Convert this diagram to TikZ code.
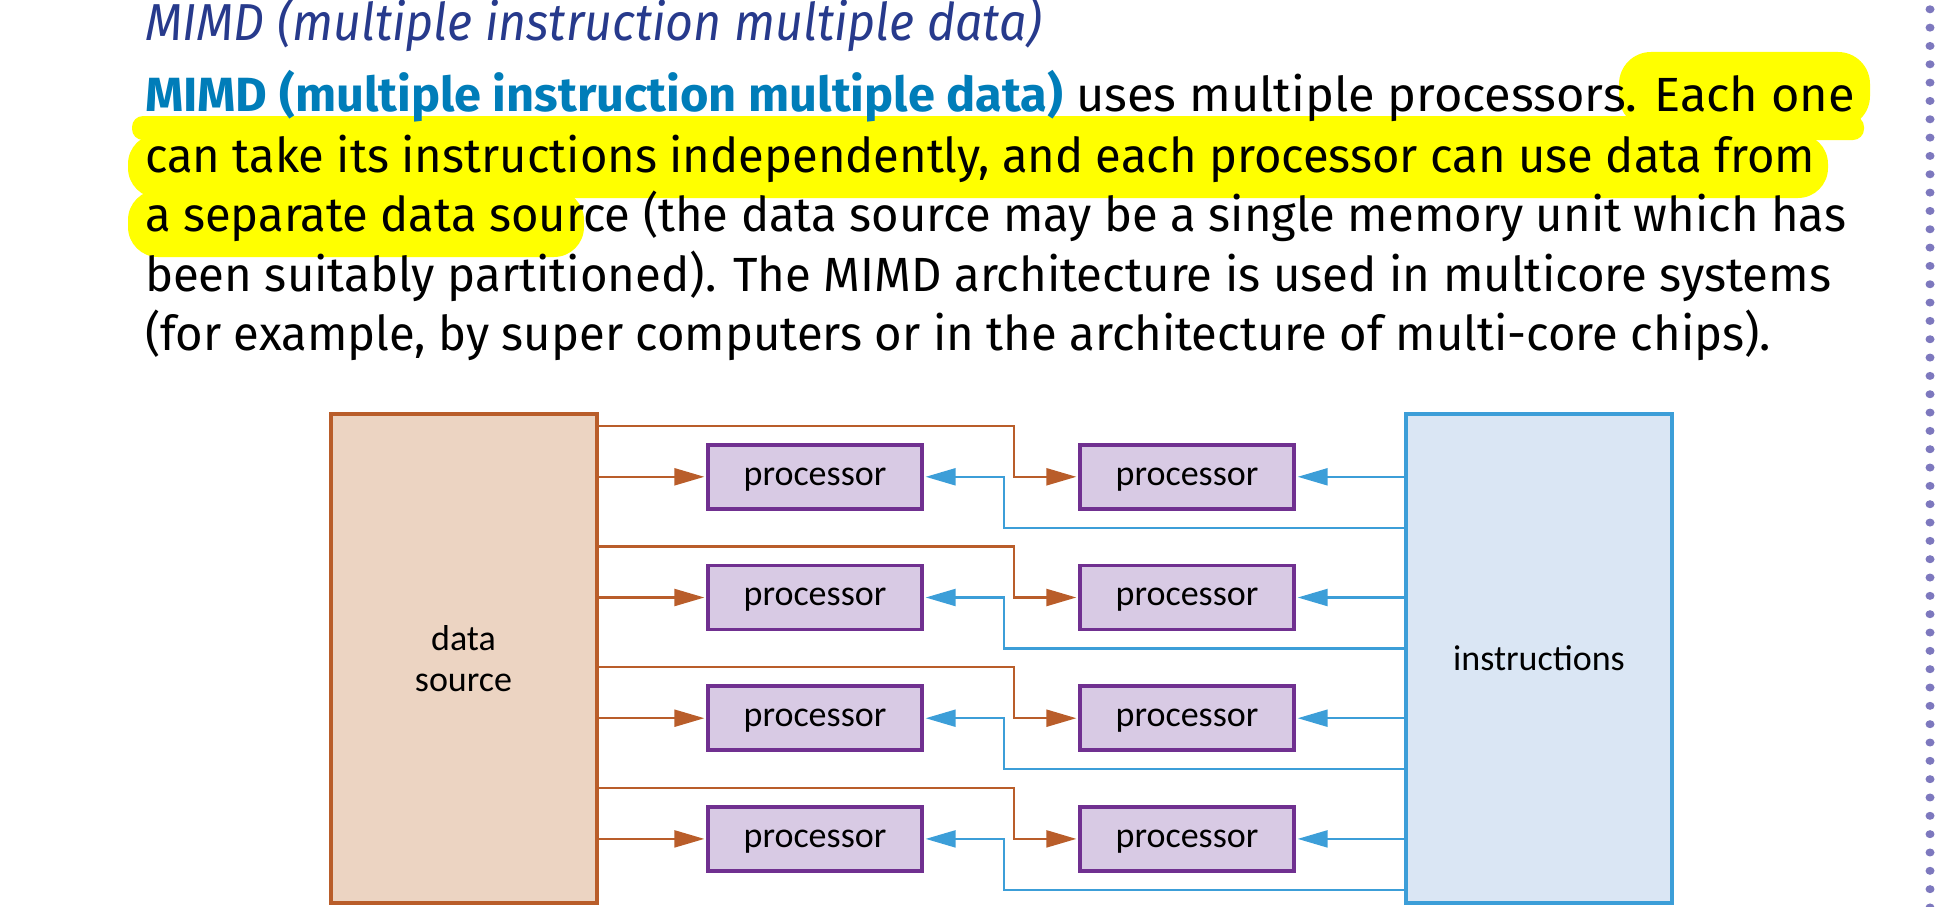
\documentclass[tikz,border=0pt]{standalone}
\usepackage{fontspec}
\usepackage{graphicx}
\setmainfont{Fira Sans}
\newfontfamily\diagfont{Carlito}
\usetikzlibrary{arrows.meta,calc}
\definecolor{titleblue}{HTML}{273A8C}
\definecolor{boldblue}{HTML}{007DB9}
\definecolor{hlyellow}{HTML}{FFFF00}
\definecolor{dsborder}{HTML}{B95D2A}
\definecolor{dsfill}{HTML}{ECD4C2}
\definecolor{procborder}{HTML}{703090}
\definecolor{procfill}{HTML}{D8CAE4}
\definecolor{insborder}{HTML}{3C9ED8}
\definecolor{insfill}{HTML}{DAE6F4}
\definecolor{dotcol}{HTML}{7D78BE}
\newcommand\bdsz{\fontsize{48}{58}\selectfont}
\begin{document}
\begin{tikzpicture}[x=1pt,y=-1pt,
  hl/.style={fill=hlyellow},
  bodyline/.style={anchor=base west, inner sep=0pt, outer sep=0pt},
  diag/.style={font=\diagfont\fontsize{36}{41}\selectfont},
  proc/.style={diag, draw=procborder, fill=procfill, line width=3.8pt,
    minimum width=214.5pt, minimum height=64pt, inner sep=0pt,
    text height=24pt, text depth=7.2pt},
  bigbox/.style={diag, line width=4pt, minimum width=266pt, minimum height=489pt,
    inner sep=0pt, align=center},
  tip/.style={-{Triangle[length=30pt,width=17pt]}, shorten >=1.5pt},
  dline/.style={draw=dsborder, line width=2.2pt, tip},
  iline/.style={draw=insborder, line width=2.2pt, tip},
]
\useasboundingbox (0,0) rectangle (1949,907);

% highlighter strokes
\fill[hl, rounded corners=32pt] (1619,52) rectangle (1870,128);
\fill[hl, rounded corners=11pt] (132,116) rectangle (1864,140);
\fill[hl, rounded corners=30pt] (128,134) rectangle (1828,198);
\fill[hl, rounded corners=30pt] (128,190) rectangle (584,257);

% title
\node[bodyline, text=titleblue] (title) at (145,40.7)
  {\resizebox{897pt}{\height}{\fontsize{52}{60}\selectfont\itshape MIMD (multiple instruction multiple data)}};

% paragraph
\node[bodyline] (l1) at (145,111.7)
  {\resizebox{1710pt}{\height}{\bdsz{\bfseries\color{boldblue}MIMD (multiple instruction multiple data)} uses multiple processors. Each one}};
\node[bodyline] (l2) at (145,172.5)
  {\resizebox{1670pt}{\height}{\bdsz can take its instructions independently, and each processor can use data from}};
\node[bodyline] (l3) at (145,231)
  {\resizebox{1701pt}{\height}{\bdsz a separate data source (the data source may be a single memory unit which has}};
\node[bodyline] (l4) at (145,291.5)
  {\resizebox{1686pt}{\height}{\bdsz been suitably partitioned). The MIMD architecture is used in multicore systems}};
\node[bodyline] (l5) at (145,350)
  {\resizebox{1626pt}{\height}{\bdsz (for example, by super computers or in the architecture of multi-core chips).}};

% dotted margin rule
\foreach \k in {0,...,49}
  \fill[dotcol] (1930,{9.3+18.33*\k}) ellipse[x radius=4.5, y radius=4];

% big boxes
\node[bigbox, draw=dsborder, fill=dsfill] (ds) at (463.5,658.5) {data\\source};
\node[bigbox, draw=insborder, fill=insfill] (ins) at (1539,658.5) {instructions};

% processors and connectors
\foreach \r in {0,1,2,3} {
  \pgfmathsetmacro\yy{476.8+120.7*\r}
  \node[proc] (p\r-1) at (815,\yy) {processor};
  \node[proc] (p\r-2) at (1187,\yy) {processor};
  \coordinate (oa\r) at ($(p\r-1.center)+(0,-51)$);
  \coordinate (ib\r) at ($(p\r-1.center)+(0,51)$);
  \draw[dline] (ds.east |- p\r-1.west) -- (p\r-1.west);
  \draw[dline] (ds.east |- oa\r) -| ($(p\r-2.west)+(-64,0)$) -- (p\r-2.west);
  \draw[iline] (ins.west |- p\r-2.east) -- (p\r-2.east);
  \draw[iline] (ins.west |- ib\r) -| ($(p\r-1.east)+(79.5,0)$) -- (p\r-1.east);
}
\end{tikzpicture}
\end{document}
